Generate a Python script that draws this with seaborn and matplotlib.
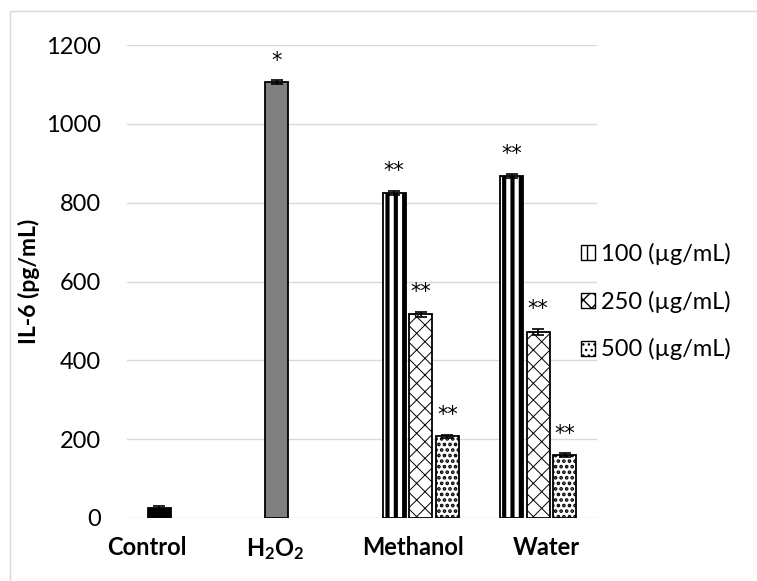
import matplotlib
matplotlib.use("Agg")
import matplotlib.pyplot as plt
from matplotlib.patches import Rectangle, Patch
import numpy as np
import pandas as pd
import seaborn as sns

# ---- data ----
groups = ["Control", "H2O2", "Methanol", "Methanol", "Methanol", "Water", "Water", "Water"]
concentrations = ["100", "100", "100", "250", "500", "100", "250", "500"]
il6_values = [25, 1105, 825, 517, 207, 868, 472, 160]
il6_errors = [5, 5, 5, 6, 4, 5, 7, 4]
significance = ["", "*", "**", "**", "**", "**", "**", "**"]

group_order = ["Control", "H2O2", "Methanol", "Water"]
group_labels = ["Control", r"$\mathrm{H_2O_2}$", "Methanol", "Water"]
conc_order = ["100", "250", "500"]
legend_labels = ["100 (\u00b5g/mL)", "250 (\u00b5g/mL)", "500 (\u00b5g/mL)"]
yticks = [0, 200, 400, 600, 800, 1000, 1200]

df = pd.DataFrame({"group": groups, "conc": concentrations,
                   "value": il6_values, "err": il6_errors, "sig": significance})

# ---- style ----
sns.set_theme(style="white")
plt.rcParams["font.family"] = ["Lato", "DejaVu Sans"]
plt.rcParams["mathtext.fontset"] = "custom"
# only the H2O2 tick label uses mathtext; keep it bold like the other labels
plt.rcParams["mathtext.rm"] = "Lato:bold"
plt.rcParams["mathtext.it"] = "Lato:bold"
plt.rcParams["mathtext.bf"] = "Lato:bold"
plt.rcParams["hatch.color"] = "black"
for key in ["text.color", "axes.labelcolor", "xtick.color", "ytick.color"]:
    plt.rcParams[key] = "black"

FS = 17
fig = plt.figure(figsize=(7.57, 5.81), dpi=100)
ax = fig.add_axes([127 / 757, 1 - 518 / 581, 470 / 757, 473 / 581])

sns.barplot(data=df, x="group", y="value", hue="conc", order=group_order,
            hue_order=conc_order, width=0.677, gap=0.15, errorbar=None,
            edgecolor="black", linewidth=1.3, color="white", legend=False,
            zorder=3, ax=ax)

hatches = {"100": "||", "250": "xx", "500": "..."}
hatch_lw = {"100": 3.0, "250": 0.7, "500": 1.8}

# bars of each concentration, sorted left to right
for conc, cont in zip(conc_order, ax.containers):
    bars = sorted(cont.patches, key=lambda p: p.get_x())
    present = set(df[df["conc"] == conc]["group"])
    sub = df[df["conc"] == conc].set_index("group").reindex(
        [g for g in group_order if g in present])
    for bar, (grp, row) in zip(bars, sub.iterrows()):
        bar.set_facecolor("white")
        if grp == "Control":
            bar.set_facecolor("black")
        elif grp == "H2O2":
            bar.set_facecolor("#808080")
        else:
            bar.set_hatch(hatches[conc])
            if hasattr(bar, "set_hatch_linewidth"):
                bar.set_hatch_linewidth(hatch_lw[conc])
        cx = bar.get_x() + bar.get_width() / 2
        ax.errorbar(cx, row["value"], yerr=row["err"], fmt="none",
                    ecolor="black", elinewidth=1.2, capsize=4.3,
                    capthick=1.2, zorder=4)
        if row["sig"]:
            ax.annotate(row["sig"], (cx, row["value"] + row["err"]),
                        xytext=(0, 7), textcoords="offset points",
                        ha="center", va="bottom", fontsize=15,
                        family="DejaVu Sans", zorder=5)

ax.set_ylim(0, 1200)
ax.set_xlim(-0.5, 3.5)
ax.set_yticks(yticks)
ax.set_yticklabels([str(t) for t in yticks], fontsize=FS)
label_shift = [-0.33, -0.24, -0.07, 0.07]
ax.set_xticks([i + s for i, s in enumerate(label_shift)])
ax.set_xticklabels(group_labels, fontsize=FS, fontweight="bold")
ax.tick_params(axis="both", length=0)
ax.tick_params(axis="y", pad=19)
ax.tick_params(axis="x", pad=13)
ax.grid(axis="y", color="#d9d9d9", linewidth=1.0, zorder=0)
ax.set_axisbelow(True)
for s in ax.spines.values():
    s.set_visible(False)
ax.set_xlabel("")
ax.set_ylabel("IL-6 (pg/mL)", fontsize=FS - 0.5, fontweight="bold")
ax.yaxis.set_label_coords(-0.185, 0.5)

handles = []
for conc in conc_order:
    h = Patch(facecolor="white", edgecolor="black", hatch=hatches[conc],
              linewidth=1.0)
    handles.append(h)
leg = ax.legend(handles, legend_labels, loc="center left",
                bbox_to_anchor=(0.965, 0.457), frameon=False, fontsize=FS,
                handlelength=0.6, handleheight=0.6, handletextpad=0.25,
                labelspacing=1.08, borderpad=0, borderaxespad=0)

# light frame around the chart area
fig.patches.append(Rectangle((10 / 757, -0.1), 1.2, 1.1 - 11 / 581,
                             transform=fig.transFigure, fill=False,
                             edgecolor="#d9d9d9", linewidth=1.0, zorder=0))

fig.savefig("out.png", dpi=100)
